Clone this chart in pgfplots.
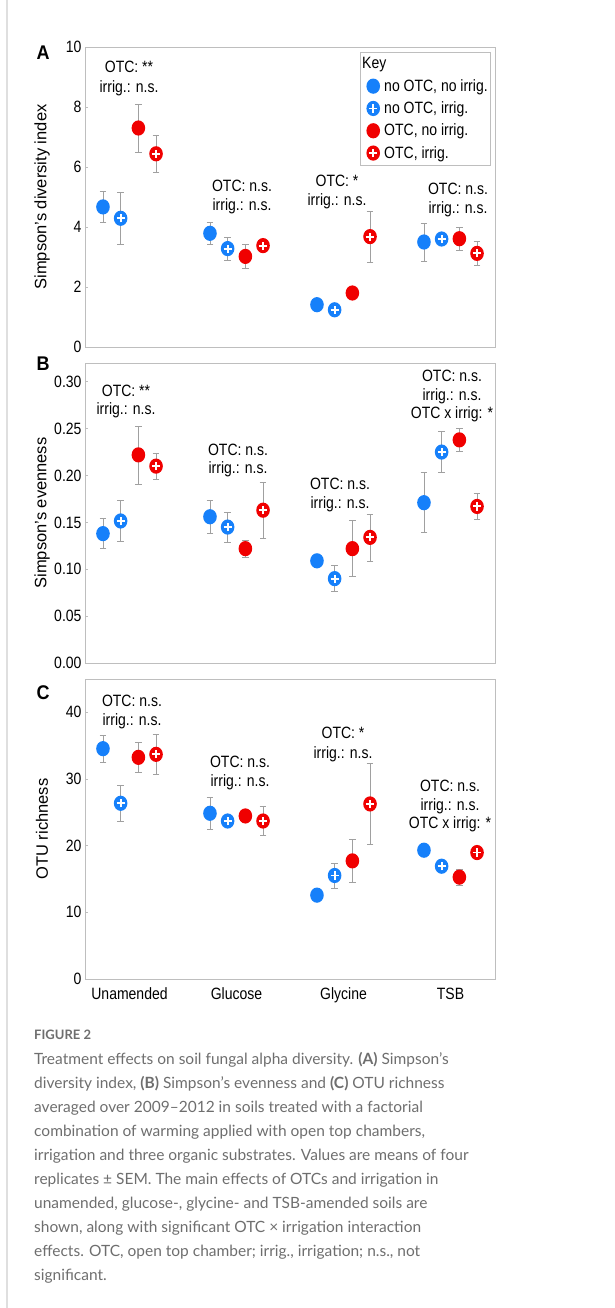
\documentclass[border=0pt]{standalone}
\usepackage{pgfplots}
\pgfplotsset{compat=1.18}
\usepackage{fontspec}
\setmainfont{Liberation Sans}
\newfontfamily\capfont{Lato}
\definecolor{blueC}{RGB}{22,128,250}
\definecolor{redC}{RGB}{240,0,0}
\definecolor{ecol}{RGB}{160,160,160}
\definecolor{framec}{RGB}{190,190,190}
\definecolor{capgray}{RGB}{110,110,110}

\pgfdeclareplotmark{ecirc}{%
  \pgfpathellipse{\pgfpointorigin}{\pgfpoint{\pgfplotmarksize}{0pt}}{\pgfpoint{0pt}{1.12\pgfplotmarksize}}%
  \pgfusepathqfill
}
\pgfdeclareplotmark{eplus}{%
  \pgfpathellipse{\pgfpointorigin}{\pgfpoint{\pgfplotmarksize}{0pt}}{\pgfpoint{0pt}{1.12\pgfplotmarksize}}%
  \pgfusepathqfill
  \pgfscope
  \pgfsetstrokecolor{white}%
  \pgfsetlinewidth{1.9pt}%
  \pgfsetbuttcap
  \pgfpathmoveto{\pgfpoint{-0.6\pgfplotmarksize}{0pt}}%
  \pgfpathlineto{\pgfpoint{0.6\pgfplotmarksize}{0pt}}%
  \pgfpathmoveto{\pgfpoint{0pt}{-0.6\pgfplotmarksize}}%
  \pgfpathlineto{\pgfpoint{0pt}{0.6\pgfplotmarksize}}%
  \pgfusepathqstroke
  \endpgfscope
}

\pgfplotsset{
  panel/.style={scale only axis, width=410pt, height=300pt,
    xmin=-0.416, xmax=3.416, xtick={0,1,2,3}, xtick style={draw=none},
    xticklabels={}, ytick pos=left,
    axis line style={framec, line width=0.6pt},
    ytick style={framec, line width=0.6pt}, major tick length=3pt,
    tick label style={font=\fontsize{14}{14}\selectfont, yscale=1.17},
    xticklabel style={yshift=-4pt},
    /pgf/number format/assume math mode=true,
    ylabel style={at={(axis description cs:0,0.5)}, anchor=center, yshift=43pt, font=\fontsize{16.5}{16.5}\selectfont},
    clip=false},
  ebar/.style={error bars/y dir=both, error bars/y explicit,
    error bars/error bar style={ecol, line width=0.6pt},
    error bars/error mark options={rotate=90, mark size=3.3pt, ecol, line width=0.6pt}},
  limg/.style={legend image code/.code={\path[draw=none,fill=none] (-12pt,0pt) -- (9pt,0pt); \path[mark repeat=2,mark phase=2,##1,draw=none] plot coordinates {(-12pt,0pt) (0pt,0pt) (9pt,0pt)};}},
  s1/.style={only marks, mark=ecirc, mark size=6.8pt, color=blueC, mark options={fill=blueC}, limg, ebar},
  s2/.style={only marks, mark=eplus, mark size=6.8pt, color=blueC, mark options={fill=blueC}, limg, ebar},
  s3/.style={only marks, mark=ecirc, mark size=6.8pt, color=redC, mark options={fill=redC}, limg, ebar},
  s4/.style={only marks, mark=eplus, mark size=6.8pt, color=redC, mark options={fill=redC}, limg, ebar},
}

\begin{document}
\begin{tikzpicture}
\path[use as bounding box] (0pt,0pt) rectangle (614pt,-1308pt);
\draw[gray!25, line width=1.5pt] (7pt,0pt) -- (7pt,-1308pt);

% ---------- Panel A ----------
\begin{axis}[panel, at={(85pt,-347pt)}, anchor=south west,
  ymin=0, ymax=10, ytick={0,2,4,6,8,10},
  ylabel={Simpson's diversity index},
  legend style={at={(axis description cs:1,1)}, anchor=north east, xshift=-4pt, yshift=-5pt,
    draw=framec, line width=0.6pt, font=\fontsize{14}{14}\selectfont,
    nodes={yscale=1.17},
    row sep=4pt, inner sep=1pt, inner ysep=3pt, cells={anchor=west}}
]
\addlegendimage{empty legend}
\addlegendentry{\hspace*{-22pt}\raisebox{0pt}[\height][0pt]{Key}}
\addplot[s1] table[x=x,y=y,y error=e] {
x y e
-0.248 4.67 0.52
0.752 3.79 0.38
1.752 1.41 0.10
2.752 3.50 0.63
};
\addlegendentry{no OTC, no irrig.}
\addplot[s2] table[x=x,y=y,y error=e] {
x y e
-0.083 4.29 0.88
0.917 3.28 0.39
1.917 1.24 0.10
2.917 3.60 0.15
};
\addlegendentry{no OTC, irrig.}
\addplot[s3] table[x=x,y=y,y error=e] {
x y e
0.083 7.30 0.80
1.083 3.02 0.40
2.083 1.80 0.10
3.083 3.61 0.38
};
\addlegendentry{OTC, no irrig.}
\addplot[s4] table[x=x,y=y,y error=e] {
x y e
0.248 6.44 0.61
1.248 3.38 0.15
2.248 3.68 0.85
3.248 3.12 0.41
};
\addlegendentry{OTC, irrig.}
\end{axis}

% ---------- Panel B ----------
\begin{axis}[panel, at={(85pt,-663pt)}, anchor=south west,
  ymin=0, ymax=0.32, ytick={0,0.05,0.10,0.15,0.20,0.25,0.30},
  yticklabel style={/pgf/number format/.cd, fixed, fixed zerofill, precision=2},
  ylabel={Simpson's evenness}]
\addplot[s1] table[x=x,y=y,y error=e] {
x y e
-0.248 0.138 0.016
0.752 0.156 0.018
1.752 0.109 0.004
2.752 0.171 0.032
};
\addplot[s2] table[x=x,y=y,y error=e] {
x y e
-0.083 0.1515 0.022
0.917 0.145 0.016
1.917 0.090 0.014
2.917 0.225 0.022
};
\addplot[s3] table[x=x,y=y,y error=e] {
x y e
0.083 0.222 0.031
1.083 0.122 0.009
2.083 0.122 0.030
3.083 0.238 0.012
};
\addplot[s4] table[x=x,y=y,y error=e] {
x y e
0.248 0.210 0.014
1.248 0.163 0.030
2.248 0.134 0.025
3.248 0.167 0.014
};
\end{axis}

% ---------- Panel C ----------
\begin{axis}[panel, at={(85pt,-979pt)}, anchor=south west,
  ymin=0, ymax=45, ytick={0,10,20,30,40},
  xticklabels={Unamended,Glucose,Glycine,TSB},
  ylabel={OTU richness}]
\addplot[s1] table[x=x,y=y,y error=e] {
x y e
-0.248 34.55 2.0
0.752 24.86 2.4
1.752 12.58 0.5
2.752 19.32 0.5
};
\addplot[s2] table[x=x,y=y,y error=e] {
x y e
-0.083 26.36 2.7
0.917 23.70 0.5
1.917 15.53 1.9
2.917 16.92 0.5
};
\addplot[s3] table[x=x,y=y,y error=e] {
x y e
0.083 33.25 2.3
1.083 24.46 0.5
2.083 17.72 3.17
3.083 15.28 1.25
};
\addplot[s4] table[x=x,y=y,y error=e] {
x y e
0.248 33.70 3.0
1.248 23.70 2.2
2.248 26.26 6.05
3.248 18.97 0.5
};
\end{axis}

% ---------- annotations ----------
\begin{scope}[x=1pt,y=1pt,every node/.style={font=\fontsize{14}{14}\selectfont, anchor=base, inner sep=0pt, yscale=1.17}]
\node at (129,-73) {OTC: **};   \node at (129,-93) {irrig.: n.s.};
\node at (242,-192) {OTC: n.s.}; \node at (242,-211) {irrig.: n.s.};
\node at (337,-186) {OTC: *};    \node at (337,-205) {irrig.: n.s.};
\node at (458,-194) {OTC: n.s.}; \node at (458,-213) {irrig.: n.s.};

\node at (126,-396) {OTC: **};   \node at (126,-414) {irrig.: n.s.};
\node at (238,-455) {OTC: n.s.}; \node at (238,-473) {irrig.: n.s.};
\node at (340,-489) {OTC: n.s.}; \node at (340,-508) {irrig.: n.s.};
\node at (452,-381) {OTC: n.s.}; \node at (452,-400) {irrig.: n.s.}; \node at (452,-418) {OTC x irrig: *};

\node at (132,-706) {OTC: n.s.}; \node at (132,-725) {irrig.: n.s.};
\node at (240,-767) {OTC: n.s.}; \node at (240,-786) {irrig.: n.s.};
\node at (343,-738) {OTC: *};    \node at (343,-758) {irrig.: n.s.};
\node at (450,-791) {OTC: n.s.}; \node at (450,-810) {irrig.: n.s.}; \node at (450,-828) {OTC x irrig: *};
\end{scope}

\begin{scope}[x=1pt,y=1pt,every node/.style={font=\fontsize{18}{18}\selectfont\bfseries, anchor=base, inner sep=0pt, yscale=1.1}]
\node at (43,-60) {A};
\node at (43,-370) {B};
\node at (43,-699) {C};
\end{scope}

% ---------- caption ----------
\begin{scope}[x=1pt,y=1pt,every node/.style={font=\capfont\fontsize{15.5}{15.5}\selectfont, text=capgray, anchor=base west, inner sep=0pt}]
\node[font=\capfont\fontsize{13}{13}\selectfont\bfseries] at (34,-1039) {FIGURE 2};
\node at (34,-1064) {Treatment effects on soil fungal alpha diversity. {\bfseries (A)} Simpson’s};
\node at (34,-1088) {diversity index, {\bfseries (B)} Simpson’s evenness and {\bfseries (C)} OTU richness};
\node at (34,-1112) {averaged over 2009–2012 in soils treated with a factorial};
\node at (34,-1136) {combination of warming applied with open top chambers,};
\node at (34,-1160) {irrigation and three organic substrates. Values are means of four};
\node at (34,-1184) {replicates ± SEM. The main effects of OTCs and irrigation in};
\node at (34,-1208) {unamended, glucose-, glycine- and TSB-amended soils are};
\node at (34,-1232) {shown, along with significant OTC × irrigation interaction};
\node at (34,-1256) {effects. OTC, open top chamber; irrig., irrigation; n.s., not};
\node at (34,-1280) {significant.};
\end{scope}
\end{tikzpicture}
\end{document}
